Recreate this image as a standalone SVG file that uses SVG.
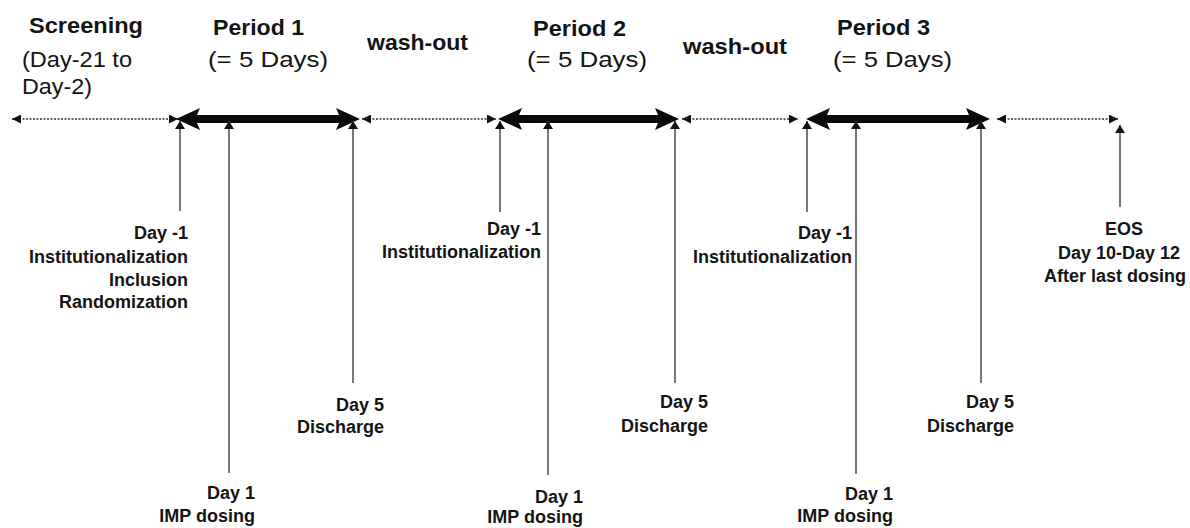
<svg xmlns="http://www.w3.org/2000/svg" width="1190" height="528" viewBox="0 0 1190 528">
<style>
  .hb { font-family: "Liberation Sans", Arial, sans-serif; font-weight: bold; font-size: 21.5px; fill: #141414; }
  .hr { font-family: "Liberation Sans", Arial, sans-serif; font-size: 22px; fill: #141414; }
  .lb { font-family: "Liberation Sans", Arial, sans-serif; font-weight: bold; font-size: 18px; fill: #141414; text-anchor: end; }
  .lc { font-family: "Liberation Sans", Arial, sans-serif; font-weight: bold; font-size: 18px; fill: #141414; text-anchor: middle; }
  .dot { stroke: #333; stroke-width: 1.5; stroke-dasharray: 2 1.5; fill: none; marker-start: url(#sm); marker-end: url(#sm); }
  .vert { stroke: #555; stroke-width: 1.6; fill: none; marker-end: url(#vm); }
  .thick { fill: #0a0a0a; }
</style>
<defs>
  <marker id="sm" markerUnits="userSpaceOnUse" markerWidth="9" markerHeight="9" viewBox="0 0 9 9" refX="9" refY="4.5" orient="auto-start-reverse">
    <path d="M0,0 L9,4.5 L0,9 Z" fill="#111"/>
  </marker>
  <marker id="vm" markerUnits="userSpaceOnUse" markerWidth="8" markerHeight="10" viewBox="0 0 8 10" refX="8" refY="5" orient="auto">
    <path d="M0,0 L8,5 L0,10 Z" fill="#111"/>
  </marker>
</defs>

<rect width="1190" height="528" fill="#ffffff"/>

<g id="connectors">
  <!-- dotted timeline segments -->
  <line class="dot" x1="12" y1="119" x2="178" y2="119"/>
  <line class="dot" x1="362" y1="119" x2="496" y2="119"/>
  <line class="dot" x1="682" y1="119" x2="798" y2="119"/>
  <line class="dot" x1="997" y1="119" x2="1118" y2="119"/>
  <!-- thick period arrows -->
  <path class="thick" d="M176,119 L200,108 L197,115 L339,115 L336,108 L360,119 L336,130 L339,123 L197,123 L200,130 Z"/>
  <path class="thick" d="M498,119 L522,108 L519,115 L658,115 L655,108 L679,119 L655,130 L658,123 L519,123 L522,130 Z"/>
  <path class="thick" d="M806,119 L830,108 L827,115 L969,115 L966,108 L990,119 L966,130 L969,123 L827,123 L830,130 Z"/>
  <!-- vertical event arrows -->
  <line class="vert" x1="180" y1="211" x2="180" y2="121"/>
  <line class="vert" x1="229" y1="473" x2="229" y2="121"/>
  <line class="vert" x1="353" y1="383" x2="353" y2="121"/>
  <line class="vert" x1="500" y1="212" x2="500" y2="121"/>
  <line class="vert" x1="548" y1="475" x2="548" y2="121"/>
  <line class="vert" x1="675" y1="383" x2="675" y2="121"/>
  <line class="vert" x1="807" y1="212" x2="807" y2="121"/>
  <line class="vert" x1="856" y1="474" x2="856" y2="121"/>
  <line class="vert" x1="981" y1="383" x2="981" y2="121"/>
  <line class="vert" x1="1120" y1="207" x2="1120" y2="125"/>
</g>

<g id="screening">
  <text class="hb" x="29" y="33" textLength="114" lengthAdjust="spacingAndGlyphs">Screening</text>
  <text class="hr" x="22" y="67" textLength="110" lengthAdjust="spacingAndGlyphs">(Day-21 to</text>
  <text class="hr" x="22" y="94" textLength="70" lengthAdjust="spacingAndGlyphs">Day-2)</text>
</g>

<g id="period1">
  <text class="hb" x="213" y="35" textLength="91" lengthAdjust="spacingAndGlyphs">Period 1</text>
  <text class="hr" x="208" y="67" textLength="120" lengthAdjust="spacingAndGlyphs">(= 5 Days)</text>
</g>

<g id="washout1">
  <text class="hb" x="367" y="50" textLength="101" lengthAdjust="spacingAndGlyphs">wash-out</text>
</g>

<g id="period2">
  <text class="hb" x="533" y="36" textLength="93" lengthAdjust="spacingAndGlyphs">Period 2</text>
  <text class="hr" x="527" y="67" textLength="120" lengthAdjust="spacingAndGlyphs">(= 5 Days)</text>
</g>

<g id="washout2">
  <text class="hb" x="683" y="54" textLength="104" lengthAdjust="spacingAndGlyphs">wash-out</text>
</g>

<g id="period3">
  <text class="hb" x="837" y="35" textLength="93" lengthAdjust="spacingAndGlyphs">Period 3</text>
  <text class="hr" x="833" y="67" textLength="119" lengthAdjust="spacingAndGlyphs">(= 5 Days)</text>
</g>

<g id="p1-day-minus1">
  <text class="lb" x="188" y="239">Day -1</text>
  <text class="lb" x="188" y="263">Institutionalization</text>
  <text class="lb" x="188" y="286">Inclusion</text>
  <text class="lb" x="188" y="308">Randomization</text>
</g>

<g id="p1-day1">
  <text class="lb" x="255" y="499">Day 1</text>
  <text class="lb" x="255" y="522">IMP dosing</text>
</g>

<g id="p1-day5">
  <text class="lb" x="384" y="411">Day 5</text>
  <text class="lb" x="384" y="433">Discharge</text>
</g>

<g id="p2-day-minus1">
  <text class="lb" x="541" y="235">Day -1</text>
  <text class="lb" x="541" y="258">Institutionalization</text>
</g>

<g id="p2-day1">
  <text class="lb" x="583" y="503">Day 1</text>
  <text class="lb" x="583" y="523">IMP dosing</text>
</g>

<g id="p2-day5">
  <text class="lb" x="708" y="408">Day 5</text>
  <text class="lb" x="708" y="432">Discharge</text>
</g>

<g id="p3-day-minus1">
  <text class="lb" x="852" y="239">Day -1</text>
  <text class="lb" x="852" y="263">Institutionalization</text>
</g>

<g id="p3-day1">
  <text class="lb" x="893" y="500">Day 1</text>
  <text class="lb" x="893" y="522">IMP dosing</text>
</g>

<g id="p3-day5">
  <text class="lb" x="1014" y="408">Day 5</text>
  <text class="lb" x="1014" y="432">Discharge</text>
</g>

<g id="eos">
  <text class="lc" x="1124" y="235">EOS</text>
  <text class="lc" x="1119" y="259">Day 10-Day 12</text>
  <text class="lc" x="1115" y="282">After last dosing</text>
</g>
</svg>
